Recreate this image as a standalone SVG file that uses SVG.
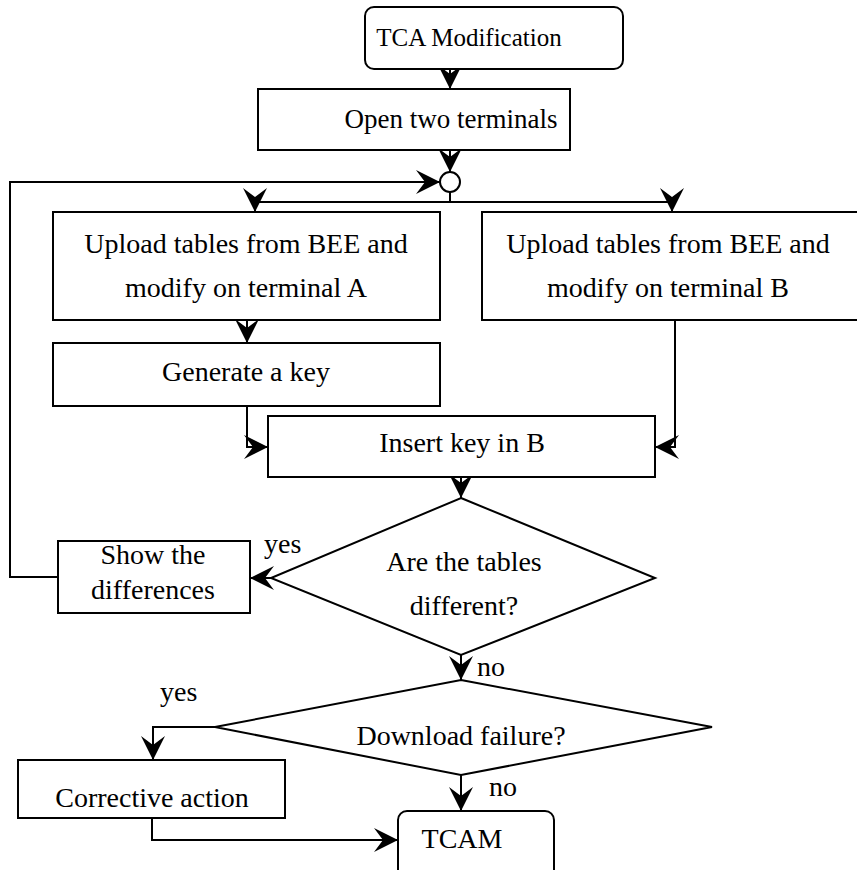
<svg xmlns="http://www.w3.org/2000/svg" width="857" height="870" viewBox="0 0 857 870">
<style>
.box{fill:#fff;stroke:#000;stroke-width:2}
.ln{fill:none;stroke:#000;stroke-width:2;marker-end:url(#ah)}
text{font-family:"Liberation Serif","Times New Roman",serif;font-size:28px;fill:#000;text-anchor:middle}
.lbl{text-anchor:start}
</style>
<defs>
<marker id="ah" markerUnits="userSpaceOnUse" markerWidth="26" markerHeight="26" viewBox="-24 -12 26 24" refX="0" refY="0" orient="auto">
<path d="M0,0 L-24,-12 L-15,0 L-24,12 Z" fill="#000"/>
</marker>
</defs>
<g id="connectors">
<path class="ln" d="M450,70 V89"/>
<path class="ln" d="M450,150 V172"/>
<path class="ln" d="M450,192 V202 H255 V212"/>
<path class="ln" d="M450,202 H672 V212"/>
<path class="ln" d="M58,577 H10 V182 H440"/>
<path class="ln" d="M247,320 V343"/>
<path class="ln" d="M247,406 V447 H268"/>
<path class="ln" d="M675,320 V447 H655"/>
<path class="ln" d="M461,477 V498"/>
<path class="ln" d="M271,578 H250"/>
<path class="ln" d="M461,655 V680"/>
<path class="ln" d="M215,727 H153 V760"/>
<path class="ln" d="M461,775 V811"/>
<path class="ln" d="M152,818 V840 H398"/>
</g>
<g id="tca"><rect class="box" x="365" y="7" width="258" height="62" rx="9"/><text x="469" y="46" style="font-size:25px">TCA Modification</text></g>
<g id="open"><rect class="box" x="258" y="89" width="312" height="61"/><text x="451" y="128" style="font-size:27px">Open two terminals</text></g>
<g id="junction"><circle class="box" cx="450" cy="182" r="10"/></g>
<g id="uploadA"><rect class="box" x="53" y="212" width="387" height="108"/><text x="246" y="253">Upload tables from BEE and</text><text x="246" y="297">modify on terminal A</text></g>
<g id="uploadB"><rect class="box" x="482" y="212" width="390" height="108"/><text x="668" y="253">Upload tables from BEE and</text><text x="668" y="297">modify on terminal B</text></g>
<g id="genkey"><rect class="box" x="53" y="343" width="387" height="63"/><text x="246" y="381">Generate a key</text></g>
<g id="insert"><rect class="box" x="268" y="416" width="387" height="61"/><text x="462" y="452">Insert key in B</text></g>
<g id="diff"><polygon class="box" points="461,498 655,578 461,655 271,578"/><text x="464" y="571">Are the tables</text><text x="464" y="615">different?</text></g>
<g id="show"><rect class="box" x="58" y="541" width="192" height="72"/><text x="153" y="564">Show the</text><text x="153" y="599">differences</text></g>
<g id="dl"><polygon class="box" points="461,680 712,727 461,775 215,727"/><text x="461" y="745">Download failure?</text></g>
<g id="corr"><rect class="box" x="18" y="760" width="267" height="58"/><text x="152" y="807">Corrective action</text></g>
<g id="tcam"><rect class="box" x="398" y="811" width="156" height="70" rx="9"/><text x="462" y="848">TCAM</text></g>
<g id="labels">
<text class="lbl" x="264" y="553">yes</text>
<text class="lbl" x="477" y="676">no</text>
<text class="lbl" x="160" y="701">yes</text>
<text class="lbl" x="489" y="796">no</text>
</g>
</svg>
